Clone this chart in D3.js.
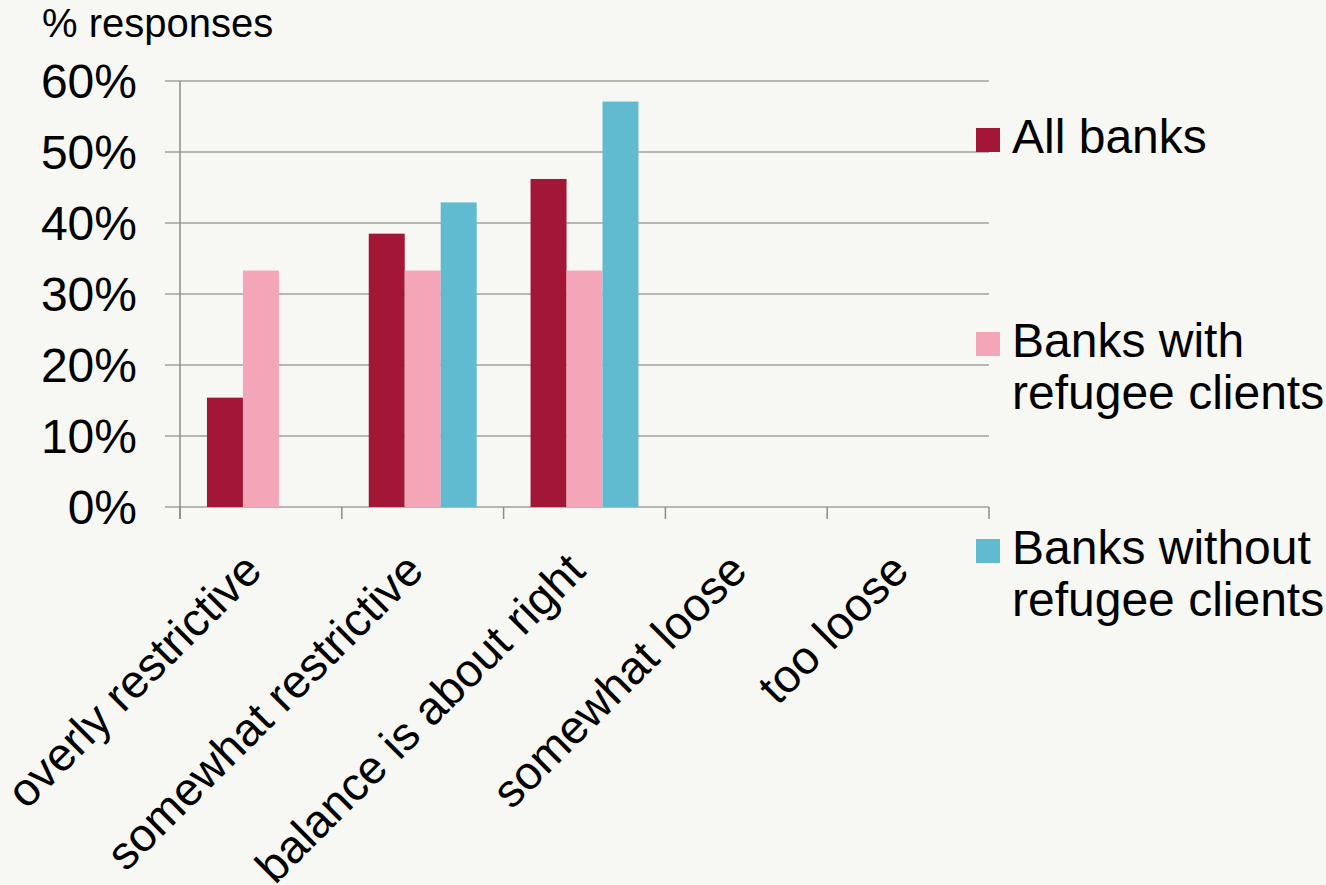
<!DOCTYPE html>
<html><head><meta charset="utf-8">
<script src="https://cdn.jsdelivr.net/npm/d3@7"></script>
<style>
html,body{margin:0;padding:0;background:#F7F7F3;}
svg{display:block;font-family:"Liberation Sans",Arial,sans-serif;}
</style></head>
<body>
<svg id="chart" width="1326" height="885"></svg>
<script>
const categories = ["overly restrictive","somewhat restrictive","balance is about right","somewhat loose","too loose"];
const seriesNames = ["All banks","Banks with refugee clients","Banks without refugee clients"];
const allBanks = [0.154, 0.385, 0.462, 0, 0];
const withRefugee = [0.333, 0.333, 0.333, 0, 0];
const withoutRefugee = [0, 0.429, 0.571, 0, 0];
const yTicks = [0, 0.1, 0.2, 0.3, 0.4, 0.5, 0.6];
const legendLines = [["All banks"],["Banks with","refugee clients"],["Banks without","refugee clients"]];
const colors = ["#A11735","#F4A6B8","#60BBD0"];

const series = [allBanks, withRefugee, withoutRefugee];
const svg = d3.select("#chart");
const L = 180, R = 989, T = 81, B = 507;

const x = d3.scaleBand().domain(categories).range([L, R]).paddingInner(0.333).paddingOuter(0.1667);
const x1 = d3.scaleBand().domain(d3.range(3)).range([0, x.bandwidth()]);
const y = d3.scaleLinear().domain([0, 0.6]).range([B, T]);

// gridlines
svg.append("g").selectAll("line").data(yTicks).join("line")
  .attr("x1", L - 15).attr("x2", R).attr("y1", d => y(d)).attr("y2", d => y(d))
  .attr("stroke", "#A0A0A0").attr("stroke-width", 1.5);

// y axis line
svg.append("line").attr("x1", L).attr("x2", L).attr("y1", T).attr("y2", B + 12)
  .attr("stroke", "#8C8C8C").attr("stroke-width", 1.5);

// x ticks
const step = (R - L) / categories.length;
svg.append("g").selectAll("line").data(d3.range(categories.length + 1)).join("line")
  .attr("x1", i => L + i * step).attr("x2", i => L + i * step)
  .attr("y1", B).attr("y2", B + 12)
  .attr("stroke", "#8C8C8C").attr("stroke-width", 1.5);

// bars
series.forEach((vals, si) => {
  svg.append("g").selectAll("rect").data(vals.map((v, i) => ({v, c: categories[i]}))).join("rect")
    .filter(d => d.v > 0)
    .attr("x", d => x(d.c) + x1(si))
    .attr("width", x1.bandwidth())
    .attr("y", d => y(d.v))
    .attr("height", d => B - y(d.v))
    .attr("fill", colors[si]);
});

// y labels
svg.append("g").selectAll("text").data(yTicks).join("text")
  .attr("x", 137).attr("y", d => y(d)).attr("dy", "0.36em")
  .attr("text-anchor", "end").attr("font-size", 48).attr("fill", "#000")
  .text(d3.format(".0%"));

// title
svg.append("text").attr("x", 42).attr("y", 37).attr("font-size", 40).attr("fill", "#000").text("% responses");

// category labels
svg.append("g").selectAll("text").data(categories).join("text")
  .attr("text-anchor", "end").attr("font-size", 46.5).attr("fill", "#000")
  .attr("transform", d => `translate(${x(d) + x.bandwidth() / 2 + 3},${B + 66}) rotate(-45)`)
  .text(d => d);

// legend
const legY = [152, 356, 563];
legendLines.forEach((lines, i) => {
  svg.append("rect").attr("x", 976).attr("y", legY[i] - 24).attr("width", 24).attr("height", 24).attr("fill", colors[i]);
  lines.forEach((t, j) => {
    svg.append("text").attr("x", 1012).attr("y", legY[i] + 1 + j * 52).attr("font-size", 48).attr("fill", "#000").text(t);
  });
});
</script>
</body></html>
